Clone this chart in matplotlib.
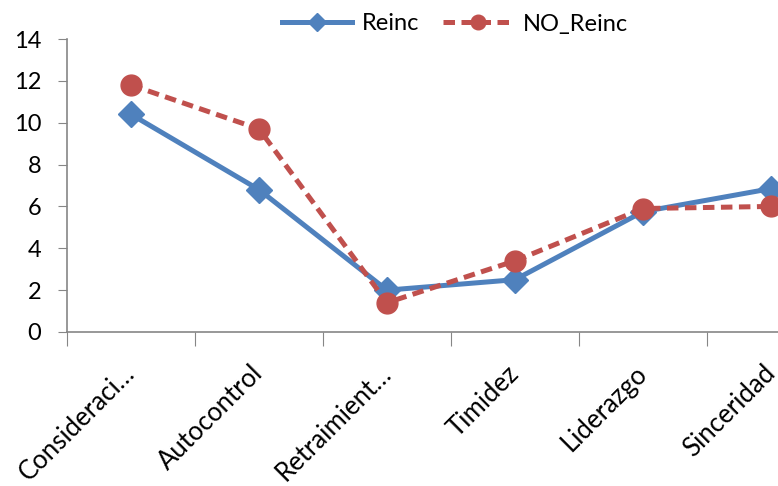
import numpy as np
import matplotlib
matplotlib.use("Agg")
import matplotlib.pyplot as plt

# Chart data
categories = ["Consideraci…", "Autocontrol", "Retraimient…", "Timidez", "Liderazgo", "Sinceridad"]
reinc = [10.4, 6.8, 2.0, 2.5, 5.75, 6.85]
no_reinc = [11.8, 9.7, 1.4, 3.4, 5.9, 6.0]

plt.rcParams['font.family'] = ['Lato', 'DejaVu Sans']

fig = plt.figure(figsize=(7.78, 4.86), dpi=100)
# plot area runs past the right edge, like the original export
ax = fig.add_axes([67 / 778, 154 / 486, 768 / 778, 293 / 486])

x = np.arange(len(categories))
ax.plot(x, reinc, color="#4F81BD", lw=3.6, marker="D", ms=13,
        label="Reinc", clip_on=False, zorder=3)
ax.plot(x, no_reinc, color="#C0504D", lw=3.6, ls=(0, (2.3, 1.3)), marker="o", ms=15,
        label="NO_Reinc", clip_on=False, zorder=4)

ax.set_xlim(-0.5, len(categories) - 0.5)
ax.set_ylim(0, 14)
ax.set_yticks(np.arange(0, 15, 2))

ax.set_xticks(np.arange(-0.5, len(categories), 1.0))
ax.set_xticklabels([])
ax.set_xticks(x, minor=True)
ax.set_xticklabels(categories, minor=True, rotation=45, ha="right", va="center",
                   rotation_mode="anchor", fontsize=18.5)
ax.tick_params(axis="x", which="major", length=10, color="#868686", direction="out")
ax.tick_params(axis="x", which="minor", length=0, pad=27)
ax.tick_params(axis="y", length=6.5, color="#868686", labelsize=17, pad=12)

for side in ("top", "right"):
    ax.spines[side].set_visible(False)
for side in ("left", "bottom"):
    ax.spines[side].set_color("#868686")
    ax.spines[side].set_linewidth(1.2)

fig.legend(loc="center", bbox_to_anchor=(455 / 778, 1 - 24 / 486), ncol=2, frameon=False,
           fontsize=17, handlelength=3.0, columnspacing=1.0, handletextpad=0.4,
           markerscale=0.7)

fig.savefig("out.png", dpi=100)
